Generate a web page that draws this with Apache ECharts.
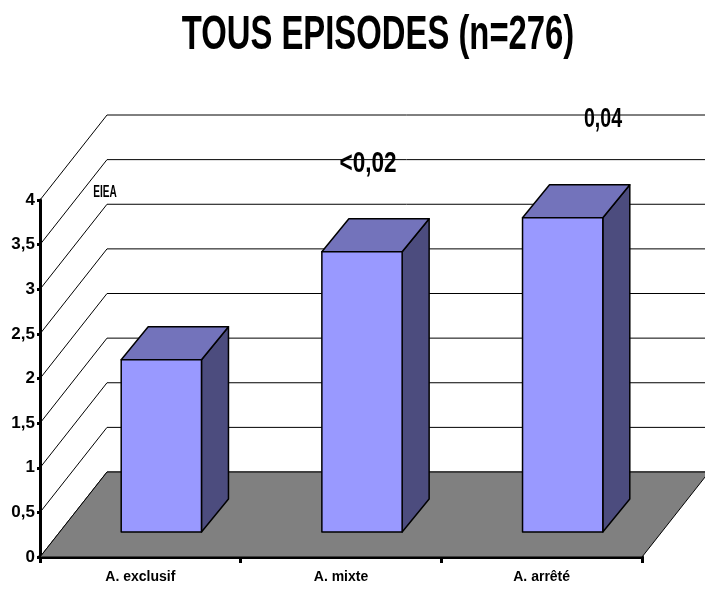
<!DOCTYPE html>
<html>
<head>
<meta charset="utf-8">
<script src="https://cdn.jsdelivr.net/npm/echarts@6/dist/echarts.min.js"></script>
<style>
  html, body { margin: 0; padding: 0; background: #fff; }
  #main { width: 705px; height: 597px; }
</style>
</head>
<body>
<div id="main"></div>
<script>
// data
var categories = ['A. exclusif', 'A. mixte', 'A. arrêté'];
var values = [1.93, 3.14, 3.52];
var gridValues = [0, 0.5, 1, 1.5, 2, 2.5, 3, 3.5, 4];

var font = "'Liberation Sans', Arial, sans-serif";

// depth offsets (px) for the fake 3d
var wallDx = 67, wallDy = -85;
var barFront = [21, -25];
var barBack = [48, -58];

var myChart = echarts.init(document.getElementById('main'));

function gridLines(params, api) {
    var cs = params.coordSys;
    var p = api.coord([0, api.value(0)]);
    var x0 = cs.x;
    return {
        type: 'polyline',
        shape: { points: [[x0, p[1]], [x0 + wallDx, p[1] + wallDy], [720, p[1] + wallDy]] },
        style: { stroke: '#000', lineWidth: 1, fill: null }
    };
}

function floor(params, api) {
    var cs = params.coordSys;
    var y = cs.y + cs.height;
    var l = cs.x, r = cs.x + cs.width;
    return {
        type: 'polygon',
        shape: { points: [[l, y], [l + wallDx, y + wallDy], [r + wallDx, y + wallDy], [r, y]] },
        style: { fill: '#808080', stroke: '#000', lineWidth: 1 }
    };
}

function bar3d(params, api) {
    var idx = api.value(0);
    var base = api.coord([idx, 0]);
    var top = api.coord([idx, api.value(1)]);
    var w = api.size([1, 0])[0] * 0.4;
    var xl = base[0] - w / 2 + barFront[0], xr = xl + w;
    var yb = base[1] + barFront[1], yt = top[1] + barFront[1];
    var dx = barBack[0] - barFront[0], dy = barBack[1] - barFront[1];
    var line = { stroke: '#000', lineWidth: 1.5, lineJoin: 'round' };
    return {
        type: 'group',
        children: [
            { type: 'polygon', shape: { points: [[xr, yb], [xr + dx, yb + dy], [xr + dx, yt + dy], [xr, yt]] },
              style: Object.assign({ fill: '#4c4c7e' }, line) },
            { type: 'polygon', shape: { points: [[xl, yt], [xl + dx, yt + dy], [xr + dx, yt + dy], [xr, yt]] },
              style: Object.assign({ fill: '#7373bb' }, line) },
            { type: 'rect', shape: { x: xl, y: yt, width: w, height: yb - yt },
              style: Object.assign({ fill: '#9999ff' }, line) }
        ]
    };
}

// squeezed bold text (the original uses a narrow font)
function label(text, x, y, size, sx) {
    return {
        type: 'text', x: x, y: y, scaleX: sx, z: 10,
        style: { text: text, fill: '#000', font: 'bold ' + size + 'px ' + font, align: 'center', verticalAlign: 'middle' }
    };
}

var option = {
    animation: false,
    backgroundColor: '#fff',
    grid: { left: 40, right: 63, top: 200, bottom: 40 },
    xAxis: {
        type: 'category',
        data: categories,
        axisLine: { lineStyle: { color: '#000', width: 4 } },
        axisTick: { show: true, length: 6, lineStyle: { color: '#000', width: 3 } },
        axisLabel: { color: '#000', fontFamily: font, fontWeight: 'bold', fontSize: 14, margin: 13 }
    },
    yAxis: {
        type: 'value',
        min: 0,
        max: 4,
        interval: 0.5,
        axisLine: { show: true, lineStyle: { color: '#000', width: 3 } },
        axisTick: { show: true, length: 3, lineStyle: { color: '#000', width: 3 } },
        splitLine: { show: false },
        axisLabel: {
            color: '#000', fontFamily: font, fontWeight: 'bold', fontSize: 17, margin: 5,
            formatter: function (v) { return String(v).replace('.', ','); }
        }
    },
    graphic: [
        label('TOUS EPISODES (n=276)', 378, 35, 49, 0.67),
        label('EIEA', 105, 193, 16, 0.63),
        label('<0,02', 368, 164, 30, 0.75),
        label('0,04', 603, 119, 28, 0.7)
    ],
    series: [
        { type: 'custom', renderItem: gridLines, data: gridValues.map(function (v) { return [v]; }), z: 1, silent: true },
        { type: 'custom', renderItem: floor, data: [[0]], z: 2, silent: true },
        { type: 'custom', renderItem: bar3d, data: values.map(function (v, i) { return [i, v]; }), z: 3,
          encode: { x: 0, y: 1 } }
    ]
};

myChart.setOption(option);
</script>
</body>
</html>
